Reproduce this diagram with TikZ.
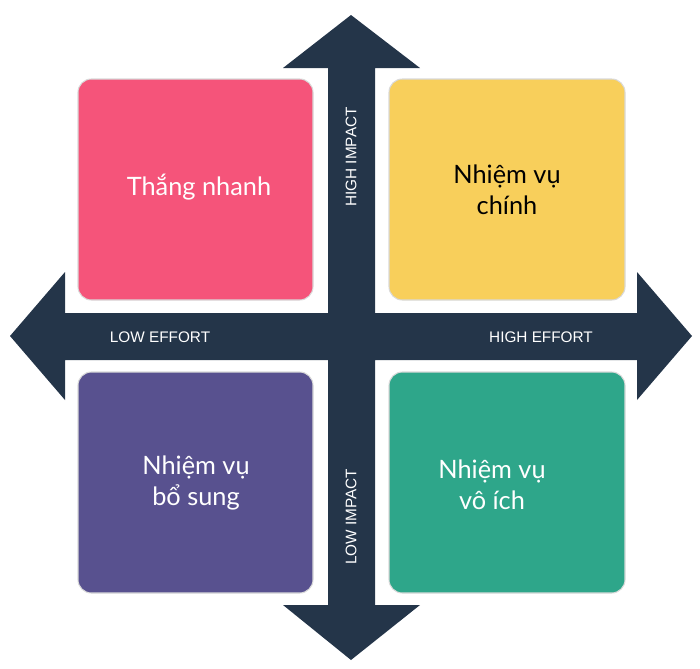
\documentclass[tikz,border=0pt]{standalone}
\usepackage{fontspec}
\setmainfont{Lato}
\newfontfamily\axisfont{Liberation Sans}
\definecolor{navy}{HTML}{243549}
\definecolor{cpink}{HTML}{F5547A}
\definecolor{cyellow}{HTML}{F8CF5B}
\definecolor{cpurple}{HTML}{58518F}
\definecolor{cgreen}{HTML}{2EA68A}
\begin{document}
\begin{tikzpicture}[x=0.75pt,y=-0.75pt,
  quad/.style={rounded corners=10pt, draw=black!15, line width=0.8pt},
  qtext/.style={font=\fontsize{19}{23}\selectfont, align=center},
  axis/.style={font=\axisfont\fontsize{11.5}{13}\selectfont, text=white}]
\useasboundingbox (0,0) rectangle (700,668);
\fill[navy] (351,15) -- (420,68) -- (375,68) -- (375,313) -- (637,313) -- (637,272) -- (692,336) -- (637,400) -- (637,360) -- (375,360) -- (375,605) -- (420,605) -- (351,660) -- (283,605) -- (328,605) -- (328,360) -- (65,360) -- (65,400) -- (10,336) -- (65,272) -- (65,313) -- (328,313) -- (328,68) -- (283,68) -- cycle;
\filldraw[quad, fill=cpink] (78,79) rectangle (313,300);
\filldraw[quad, fill=cyellow] (389,79) rectangle (625,300);
\filldraw[quad, fill=cpurple] (78,372) rectangle (313,593);
\filldraw[quad, fill=cgreen] (389,372) rectangle (625,593);
\node[qtext, text=white] (q1) at (199,187) {Thắng nhanh};
\node[qtext, text=black] (q2) at (507,190) {Nhiệm vụ\\chính};
\node[qtext, text=white] (q3) at (196,483) {Nhiệm vụ\\bổ sung};
\node[qtext, text=white] (q4) at (492,485) {Nhiệm vụ\\vô ích};
\node[axis, rotate=90] (hi) at (351,157) {HIGH IMPACT};
\node[axis, rotate=90] (li) at (351,517) {LOW IMPACT};
\node[axis] (le) at (160,337) {LOW EFFORT};
\node[axis] (he) at (541,337) {HIGH EFFORT};
\end{tikzpicture}
\end{document}
